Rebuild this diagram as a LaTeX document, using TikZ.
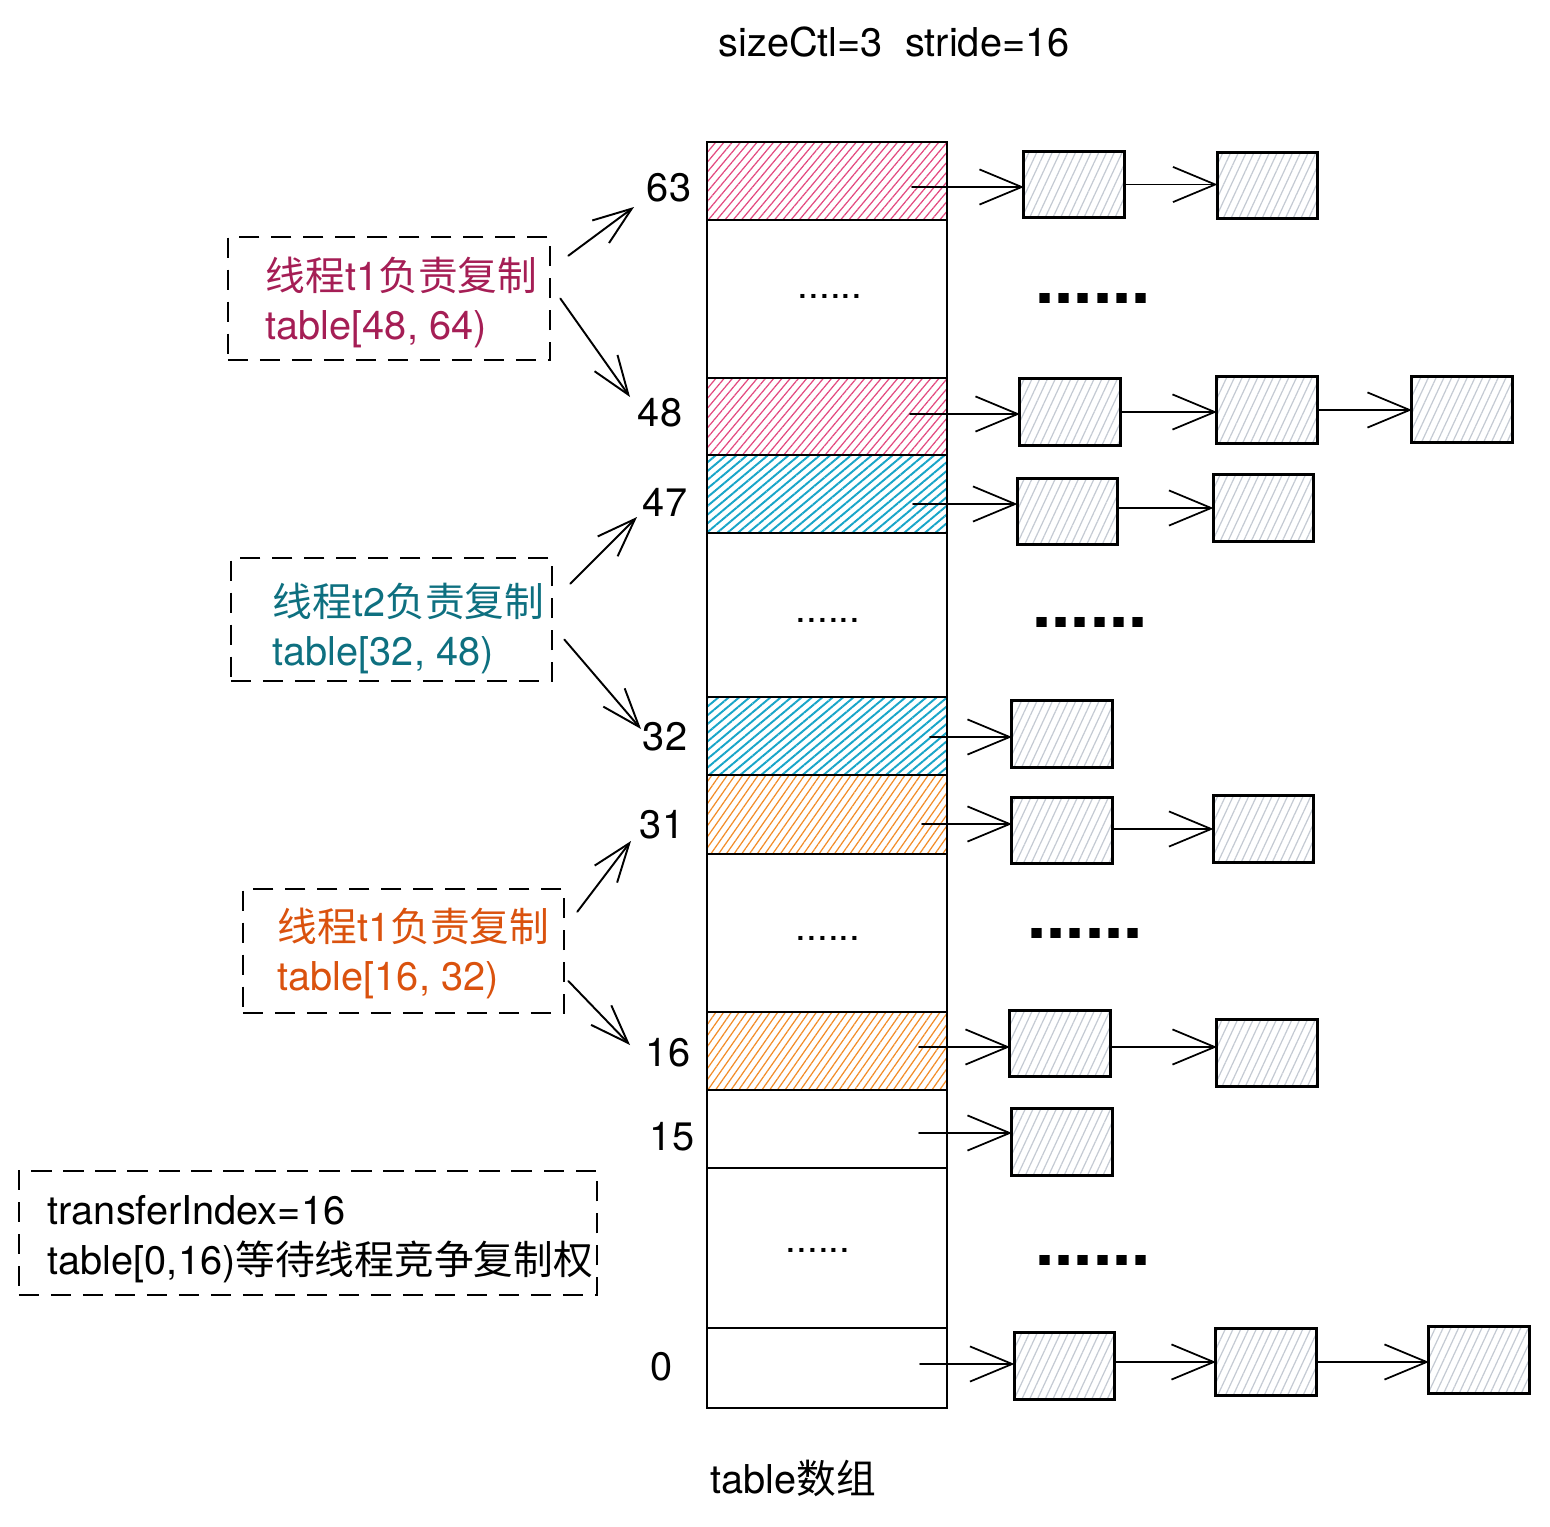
\documentclass[tikz,border=0pt]{standalone}
\usepackage{fontspec}
\setmainfont{TeX Gyre Heros}
\newfontfamily\cjk{Noto Sans CJK SC}
\usetikzlibrary{arrows.meta,patterns.meta,calc}
\definecolor{pinkh}{RGB}{226,74,128}
\definecolor{cyanh}{RGB}{24,165,200}
\definecolor{orangeh}{RGB}{242,140,40}
\definecolor{grayh}{RGB}{196,202,211}
\definecolor{pinkt}{RGB}{165,30,85}
\definecolor{tealt}{RGB}{14,112,128}
\definecolor{oranget}{RGB}{218,82,14}
\begin{document}
\begin{tikzpicture}[x=0.01cm, y=-0.01cm,
  cell/.style={draw, line width=0.7pt, minimum width=2.4cm, inner sep=0pt, outer sep=0pt},
  hpink/.style={pattern={Lines[angle=50,distance=1.8pt,line width=0.35pt]}, pattern color=pinkh},
  hcyan/.style={pattern={Lines[angle=40,distance=1.9pt,line width=0.55pt]}, pattern color=cyanh},
  horange/.style={pattern={Lines[angle=55,distance=1.8pt,line width=0.35pt]}, pattern color=orangeh},
  lbox/.style={draw, line width=0.85pt, minimum width=1cm, minimum height=0.66cm, inner sep=0pt, outer sep=0pt,
    pattern={Lines[angle=65,distance=2pt,line width=0.35pt]}, pattern color=grayh},
  link/.style={line width=0.5pt, line cap=round, -{Straight Barb[length=12pt,width=10pt]}},
  larrow/.style={line width=0.55pt, line cap=round, -{Straight Barb[length=11pt,width=8pt]}},
  dbox/.style={draw, line width=0.7pt, dash pattern=on 5.7pt off 3.4pt, inner sep=0pt},
  lbl/.style={inner sep=0pt, font=\fontsize{11.3}{13}\selectfont},
  boxtxt/.style={inner sep=0pt, anchor=base west, font=\fontsize{11.3}{13}\selectfont},
  sdots/.style={inner sep=0pt, font=\fontsize{11}{13}\selectfont},
  bdots/.style={inner sep=0pt, font=\fontsize{19.5}{21}\selectfont\bfseries}
]
\useasboundingbox (0,0) rectangle (1550,1527);

% title
\node[lbl] (title) at (894,42) {sizeCtl=3~~stride=16};

% table cells
\node[cell, hpink,   minimum height=0.78cm] (c63) at (827,181) {};
\node[cell,          minimum height=1.58cm] (d1)  at (827,299) {};
\node[cell, hpink,   minimum height=0.77cm] (c48) at (827,416.5) {};
\node[cell, hcyan,   minimum height=0.78cm] (c47) at (827,494) {};
\node[cell,          minimum height=1.64cm] (d2)  at (827,615) {};
\node[cell, hcyan,   minimum height=0.78cm] (c32) at (827,736) {};
\node[cell, horange, minimum height=0.79cm] (c31) at (827,814.5) {};
\node[cell,          minimum height=1.58cm] (d3)  at (827,933) {};
\node[cell, horange, minimum height=0.78cm] (c16) at (827,1051) {};
\node[cell,          minimum height=0.78cm] (c15) at (827,1129) {};
\node[cell,          minimum height=1.60cm] (d4)  at (827,1248) {};
\node[cell,          minimum height=0.80cm] (c0)  at (827,1368) {};

% small dots in cells
\node[sdots] (sd1) at (830,296) {......};
\node[sdots] (sd2) at (828,620) {......};
\node[sdots] (sd3) at (828,938) {......};
\node[sdots] (sd4) at (818,1250) {......};

% big dots
\node[bdots] (bd1) at (1093,298) {......};
\node[bdots] (bd2) at (1090,622) {......};
\node[bdots] (bd3) at (1085,933) {......};
\node[bdots] (bd4) at (1093,1260) {......};

% index labels
\node[lbl] (l63) at (669,188) {63};
\node[lbl] (l48) at (660,413) {48};
\node[lbl] (l47) at (665,502) {47};
\node[lbl] (l32) at (665,737) {32};
\node[lbl] (l31) at (662,825) {31};
\node[lbl] (l16) at (668,1053) {16};
\node[lbl] (l15) at (672,1137) {15};
\node[lbl] (l0)  at (662,1367) {0};

% linked-list nodes
\node[lbox] (r63a) at (1074,184.5) {};
\node[lbox] (r63b) at (1267.5,185.5) {};
\node[lbox] (r48a) at (1070,412) {};
\node[lbox] (r48b) at (1267,410) {};
\node[lbox] (r48c) at (1462,409.5) {};
\node[lbox] (r47a) at (1067.5,511.5) {};
\node[lbox] (r47b) at (1263.5,508) {};
\node[lbox] (r32a) at (1062,734) {};
\node[lbox] (r31a) at (1062,830.5) {};
\node[lbox] (r31b) at (1263.5,829) {};
\node[lbox] (r16a) at (1060,1043.5) {};
\node[lbox] (r16b) at (1267,1053) {};
\node[lbox] (r15a) at (1062,1142) {};
\node[lbox] (r0a)  at (1064.5,1366) {};
\node[lbox] (r0b)  at (1266,1362) {};
\node[lbox] (r0c)  at (1479,1360) {};

% arrow start points inside cells
\coordinate (s63) at (912,187);
\coordinate (s48) at (910,414);
\coordinate (s47) at (913,504);
\coordinate (s32) at (930,737);
\coordinate (s31) at (922,824);
\coordinate (s16) at (919,1047);
\coordinate (s15) at (919,1133);
\coordinate (s0)  at (920,1364);

\draw[link] (s63) -- (s63 -| r63a.west);
\draw[link] (r63a.east) -- (r63a.east -| r63b.west);
\draw[link] (s48) -- (s48 -| r48a.west);
\draw[link] (r48a.east) -- (r48a.east -| r48b.west);
\draw[link] (r48b.east) -- (r48b.east -| r48c.west);
\draw[link] (s47) -- (s47 -| r47a.west);
\draw[link] (r47b.west -| r47a.east) -- (r47b.west);
\draw[link] (s32) -- (s32 -| r32a.west);
\draw[link] (s31) -- (s31 -| r31a.west);
\draw[link] (r31b.west -| r31a.east) -- (r31b.west);
\draw[link] (s16) -- (s16 -| r16a.west);
\draw[link] (s16 -| r16a.east) -- (s16 -| r16b.west);
\draw[link] (s15) -- (s15 -| r15a.west);
\draw[link] (s0) -- (s0 -| r0a.west);
\draw[link] (r0b.west -| r0a.east) -- (r0b.west);
\draw[link] (r0b.east) -- (r0b.east -| r0c.west);

% dashed boxes
\node[dbox, minimum width=3.22cm, minimum height=1.23cm] (db1) at (389,298.5) {};
\node[dbox, minimum width=3.21cm, minimum height=1.23cm] (db2) at (391.5,619.5) {};
\node[dbox, minimum width=3.21cm, minimum height=1.24cm] (db3) at (403.5,951) {};
\node[dbox, minimum width=5.78cm, minimum height=1.24cm] (db4) at (308,1233) {};

\node[boxtxt, text=pinkt] (t1a) at (265,291) {{\cjk 线程}t1{\cjk 负责复制}};
\node[boxtxt, text=pinkt] (t1b) at (265,340) {table[48, 64)};
\node[boxtxt, text=tealt] (t2a) at (272,616) {{\cjk 线程}t2{\cjk 负责复制}};
\node[boxtxt, text=tealt] (t2b) at (272,665) {table[32, 48)};
\node[boxtxt, text=oranget] (t3a) at (277,941) {{\cjk 线程}t1{\cjk 负责复制}};
\node[boxtxt, text=oranget] (t3b) at (277,990) {table[16, 32)};
\node[boxtxt] (t4a) at (47,1224) {transferIndex=16};
\node[boxtxt] (t4b) at (47,1274) {table[0,16){\cjk 等待线程竞争复制权}};

% arrows from dashed boxes to labels
\draw[larrow] ($(db1.north east)+(17,20)$) -- ($(l63)+(-35,19)$);
\draw[larrow] ($(db1.east)+(9,0)$) -- ($(l48)+(-30,-16)$);
\draw[larrow] ($(db2.north east)+(17,27)$) -- ($(l47)+(-28,15)$);
\draw[larrow] ($(db2.east)+(11,20)$) -- ($(l32)+(-24,-8)$);
\draw[larrow] ($(db3.north east)+(12,24)$) -- ($(l31)+(-31,16)$);
\draw[larrow] ($(db3.east)+(3,30)$) -- ($(l16)+(-38,-8)$);

% caption
\node[lbl] (cap) at (793,1478) {table{\cjk 数组}};
\end{tikzpicture}
\end{document}
